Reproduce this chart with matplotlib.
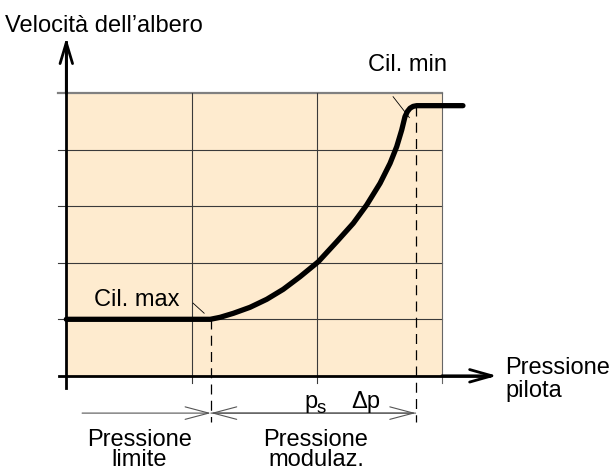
import matplotlib
matplotlib.use("Agg")
import matplotlib.pyplot as plt

plt.rcParams["font.family"] = ["Liberation Sans", "DejaVu Sans"]

# ---- style ----
FILL = "#FEEBCF"
GRID = "#3a3a3a"
TOP = "#808080"
DIM = "#555555"
FS = 17

# ---- data (grid units: one column / one row) ----
grid_cols = [1, 2, 3]
grid_rows = [1, 2, 3, 4, 5]
x_max = 3
y_max = 5

# speed vs pilot pressure
curve_x = [0.0, 1.150, 1.228, 1.334, 1.467, 1.601, 1.733, 1.867, 2.013,
           2.160, 2.292, 2.399, 2.506, 2.586, 2.639, 2.679, 2.705, 2.725,
           2.745, 2.770, 2.799, 3.168]
curve_y = [1.0, 1.0, 1.035, 1.106, 1.212, 1.354, 1.531, 1.754, 2.019,
           2.373, 2.699, 3.023, 3.407, 3.761, 4.055, 4.350, 4.586, 4.680,
           4.735, 4.768, 4.781, 4.781]

p_limit = 1.155      # start of modulation (Cil. max)
p_end = 2.79         # end of modulation (Cil. min)
y_low = 1.0
y_high = 4.781

fig = plt.figure(figsize=(6.14, 4.70), dpi=100)
ax = fig.add_axes([0, 0, 1, 1])
ax.set_xlim(-0.5296, 4.3746)
ax.set_ylim(-1.667, 6.651)
ax.axis("off")

# shaded field
ax.fill_between([0, x_max], 0, y_max, color=FILL, lw=0, zorder=0)

# grid
for r in grid_rows[:-1]:
    ax.plot([-0.064, x_max], [r, r], color=GRID, lw=0.8, zorder=1)
ax.plot([-0.064, x_max], [y_max, y_max], color=TOP, lw=1.6, zorder=1)
for c in grid_cols:
    ax.plot([c, c], [-0.12, y_max], color=GRID if c < x_max else "#666666",
            lw=0.8, zorder=1)

# axes with open arrowheads
ax.plot([0, 0], [-0.22, 5.9], color="black", lw=2.0, zorder=3)
ax.annotate("", xy=(0, 5.98), xytext=(0, 5.0),
            arrowprops=dict(arrowstyle="->,head_length=1.5,head_width=0.45",
                            lw=2.0, color="black", shrinkA=0, shrinkB=0),
            zorder=3)
ax.plot([-0.06, 3.38], [0, 0], color="black", lw=2.0, zorder=3)
ax.annotate("", xy=(3.44, 0), xytext=(3.0, 0),
            arrowprops=dict(arrowstyle="->,head_length=1.6,head_width=0.45",
                            lw=2.0, color="black", shrinkA=0, shrinkB=0),
            zorder=3)

# characteristic curve
ax.plot(curve_x, curve_y, color="black", lw=3.8, solid_joinstyle="round",
        solid_capstyle="round", zorder=4)

# dashed projections
ax.plot([p_limit, p_limit], [y_low, -0.82], color="black", lw=0.9,
        dashes=[8, 5], zorder=2)
ax.plot([p_end, p_end], [y_high, -0.82], color="black", lw=0.9,
        dashes=[8, 5], zorder=2)

# dimension line
arrow_kw = dict(arrowstyle="->,head_length=1.7,head_width=0.45",
                lw=0.8, color=DIM, shrinkA=0, shrinkB=0)
y_dim = -0.66
ax.annotate("", xy=(p_limit, y_dim), xytext=(0.126, y_dim), arrowprops=arrow_kw)
ax.annotate("", xy=(p_limit, y_dim), xytext=(p_end, y_dim), arrowprops=arrow_kw)
ax.annotate("", xy=(p_end, y_dim), xytext=(p_limit, y_dim), arrowprops=arrow_kw)

# leader lines
ax.plot([1.013, 1.101], [1.285, 1.108], color="black", lw=0.6, zorder=3)
ax.plot([2.61, 2.74], [4.94, 4.57], color="black", lw=0.6, zorder=3)

# texts (baseline anchored)
txt = dict(fontsize=FS, va="baseline")
ax.text(-0.49, 6.09, "Velocità dell\u2019albero", ha="left", **txt)
ax.text(3.504, 0.032, "Pressione", ha="left", **txt)
ax.text(3.504, -0.375, "pilota", ha="left", **txt)
ax.text(0.222, 1.235, "Cil. max", ha="left", **txt)
ax.text(2.41, 5.40, "Cil. min", ha="left", **txt)
ax.text(1.899, -0.57, "p", ha="left", **txt)
ax.text(1.995, -0.655, "s", ha="left", fontsize=13.5, va="baseline")
ax.text(2.274, -0.57, "\u0394p", ha="left", **txt)
ax.text(0.582, -1.235, "Pressione", ha="center", **txt)
ax.text(0.582, -1.60, "limite", ha="center", **txt)
ax.text(1.994, -1.235, "Pressione", ha="center", **txt)
ax.text(1.994, -1.60, "modulaz.", ha="center", **txt)

fig.savefig("out.png", dpi=100, facecolor="white")
